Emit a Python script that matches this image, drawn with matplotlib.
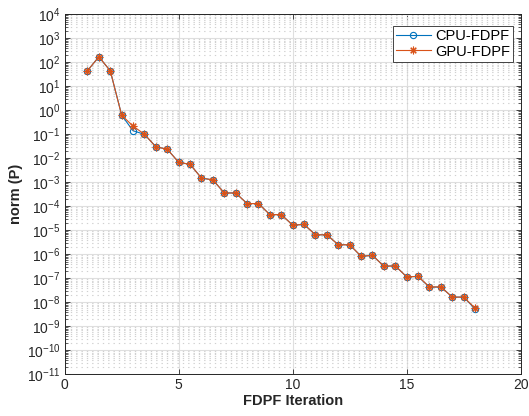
import matplotlib
matplotlib.use("Agg")
import matplotlib.pyplot as plt
import numpy as np
from matplotlib.ticker import LogLocator, FixedLocator, NullFormatter

plt.rcParams['font.family'] = ['Liberation Sans', 'DejaVu Sans']
plt.rcParams['mathtext.default'] = 'regular'

iterations = [1, 1.5, 2, 2.5, 3, 3.5, 4, 4.5, 5, 5.5, 6, 6.5, 7, 7.5, 8, 8.5, 9, 9.5,
              10, 10.5, 11, 11.5, 12, 12.5, 13, 13.5, 14, 14.5, 15, 15.5, 16, 16.5,
              17, 17.5, 18]
cpu_norm = [45, 170, 44, 0.62, 0.14, 0.1, 0.03, 0.024, 0.0068, 0.0056, 0.0015, 0.00126,
            3.6e-4, 3.6e-4, 1.3e-4, 1.3e-4, 4.5e-5, 4.5e-5, 1.65e-5, 1.75e-5, 6.5e-6,
            6.5e-6, 2.5e-6, 2.5e-6, 8.3e-7, 9.0e-7, 3.2e-7, 3.3e-7, 1.15e-7, 1.2e-7,
            4.2e-8, 4.4e-8, 1.65e-8, 1.65e-8, 5.3e-9]
gpu_norm = [45, 170, 44, 0.62, 0.22, 0.1, 0.03, 0.024, 0.0068, 0.0056, 0.0015, 0.00126,
            3.6e-4, 3.6e-4, 1.3e-4, 1.3e-4, 4.5e-5, 4.5e-5, 1.65e-5, 1.75e-5, 6.5e-6,
            6.5e-6, 2.5e-6, 2.5e-6, 8.3e-7, 9.0e-7, 3.2e-7, 3.3e-7, 1.15e-7, 1.2e-7,
            4.4e-8, 4.4e-8, 1.65e-8, 1.65e-8, 5.7e-9]
series_labels = ["CPU-FDPF", "GPU-FDPF"]
x_ticks = [0, 5, 10, 15, 20]
y_exponents = list(range(-11, 5))

axc = '#262626'
fig = plt.figure(figsize=(5.29, 4.16), dpi=100)
ax = fig.add_axes([0.1223, 0.1002, 0.8620, 0.8654])

ax.plot(iterations, cpu_norm, color='#0072BD', lw=0.8, marker='o', ms=4.5,
        mfc='none', mew=0.8, label=series_labels[0], zorder=3)
ax.plot(iterations, gpu_norm, color='#D95319', lw=0.8, marker=(8, 2, 0), ms=5.5,
        mew=0.8, label=series_labels[1], zorder=4)

ax.set_yscale('log')
ax.set_xlim(0, 20)
ax.set_ylim(1e-11, 1e4)
ax.xaxis.set_major_locator(FixedLocator(x_ticks))
ax.set_xticklabels([str(t) for t in x_ticks])
ax.yaxis.set_major_locator(FixedLocator([10.0**e for e in y_exponents]))
ax.set_yticklabels([r'$10^{%d}$' % e for e in y_exponents])
ax.yaxis.set_minor_locator(LogLocator(base=10, subs=np.arange(2, 10), numticks=100))
ax.yaxis.set_minor_formatter(NullFormatter())

ax.grid(True, which='major', color='#DFDFDF', lw=0.8, ls='-')
ax.grid(True, which='minor', axis='y', color='#D0D0D0', lw=0.8, ls=(0, (1.2, 3.6)))
ax.set_axisbelow(True)

ax.tick_params(which='both', direction='in', top=True, right=True, colors=axc,
               labelsize=10, pad=3)
ax.tick_params(which='major', length=3.5, width=0.6)
ax.tick_params(which='minor', length=2, width=0.5)
for s in ax.spines.values():
    s.set_color(axc)
    s.set_linewidth(0.7)

ax.set_xlabel('FDPF Iteration', fontsize=10.5, fontweight='bold', color=axc, labelpad=1)
ax.set_ylabel('norm (P)', fontsize=10.5, fontweight='bold', color=axc, labelpad=3)

leg = ax.legend(loc='upper right', bbox_to_anchor=(0.99, 0.975), fontsize=10.5,
                fancybox=False, framealpha=1, edgecolor=axc, numpoints=1,
                handlelength=2.4, borderpad=0.2, labelspacing=0.1, handletextpad=0.3,
                borderaxespad=0.2)
leg.get_frame().set_linewidth(0.6)

fig.savefig('out.png', dpi=100)
